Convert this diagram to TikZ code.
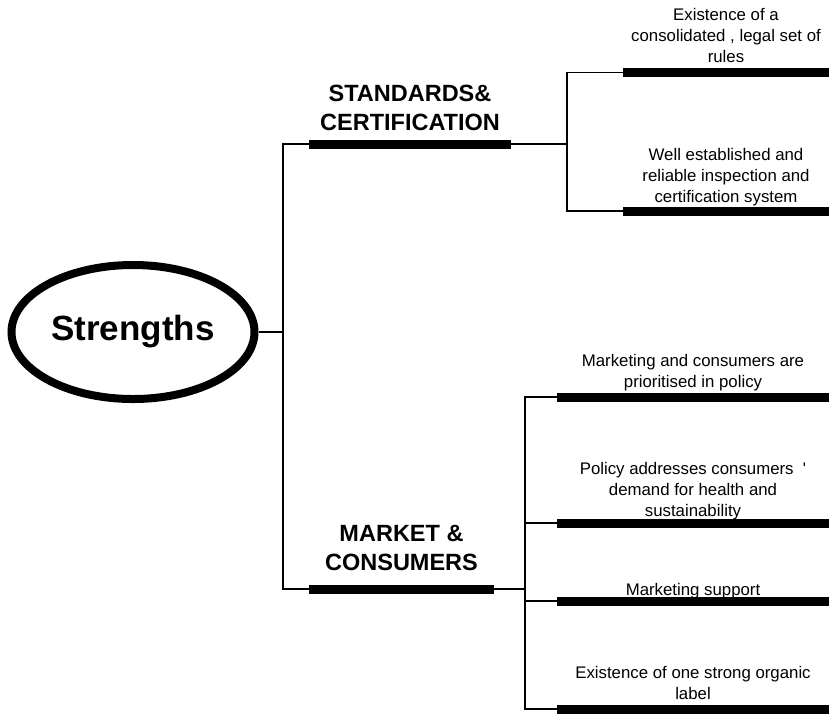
\documentclass[tikz,border=0pt]{standalone}
\usepackage{fontspec}
\setmainfont{Liberation Sans}[Ligatures=TeXOff]
\usepackage{tikz}
\usetikzlibrary{shapes.geometric,positioning}

\begin{document}
\begin{tikzpicture}[x=1pt, y=-1pt,
		link/.style = {line width=1.8pt},
		bar/.style = {fill=black, inner sep=0pt, minimum height=9pt},
		head/.style = {font=\fontsize{23.5}{29}\selectfont\bfseries, align=center, inner sep=0pt},
		leaf/.style = {font=\fontsize{16.8}{21}\selectfont, align=center, inner sep=0pt}]
				\useasboundingbox (0,0) rectangle (829,713);
				% root
				\node[ellipse, draw, line width=8pt, inner sep=0pt, minimum width=243pt, minimum height=134pt,
					font=\fontsize{35}{40}\selectfont\bfseries] (str) at (133,332) {Strengths};
				% branches
				\node[bar, minimum width=202pt] (sc) at (410,144) {};
				\node[bar, minimum width=185pt] (mc) at (401.5,589) {};
				\node[head, above=8.5pt of sc] (sc-t) {STANDARDS\&\\CERTIFICATION};
				\node[head, above=13.5pt of mc] (mc-t) {MARKET \&\\CONSUMERS};
				% leaves
				\node[bar, minimum width=206pt] (t1) at (726,72.5) {};
				\node[bar, minimum width=206pt] (t2) at (726,211) {};
				\node[bar, minimum width=272pt] (b1) at (693,397) {};
				\node[bar, minimum width=272pt] (b2) at (693,523) {};
				\node[bar, minimum width=272pt] (b3) at (693,601) {};
				\node[bar, minimum width=272pt] (b4) at (693,709) {};
				\node[leaf, above=5pt of t1] (t1-t) {Existence of a\\consolidated , legal set of\\rules};
				\node[leaf, above=0pt of t2] (t2-t) {Well established and\\reliable inspection and\\certification system};
				\node[leaf, above=1.5pt of b1] (b1-t) {Marketing and consumers are\\prioritised in policy};
				\node[leaf, above=-2pt of b2] (b2-t) {Policy addresses consumers~~'\\demand for health and\\sustainability};
				\node[leaf, above=-2.5pt of b3] (b3-t) {Marketing support};
				\node[leaf, above=4.5pt of b4] (b4-t) {Existence of one strong organic\\label};
				% connectors
				\coordinate (j1) at (283,332);
				\coordinate (j2) at (567,144);
				\coordinate (j3) at (525,589);
				\draw[link] (str.east) -- (j1);
				\draw[link] (sc.west) -| (j1);
				\draw[link] (mc.west) -| (j1);
				\draw[link] (sc.east) -- (j2);
				\foreach \n in {t1,t2}
					\draw[link] (\n.west) -| (j2);
				\draw[link] (mc.east) -- (j3);
				\foreach \n in {b1,b2,b3,b4}
					\draw[link] (\n.west) -| (j3);
\end{tikzpicture}
\end{document}
